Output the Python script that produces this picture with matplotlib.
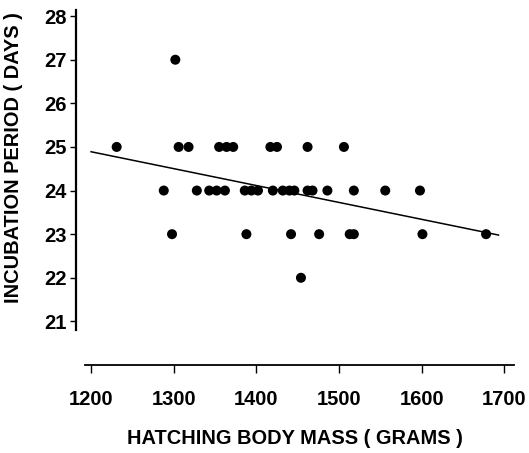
import matplotlib
matplotlib.use("Agg")
import matplotlib.pyplot as plt
import numpy as np

# hatching body mass (g) grouped by incubation period (days)
mass_27 = [1302]
mass_25 = [1231, 1306, 1318, 1355, 1364, 1372, 1417, 1425, 1462, 1506]
mass_24 = [1288, 1328, 1343, 1352, 1362, 1386, 1394, 1402, 1420,
           1432, 1440, 1446, 1462, 1468, 1486, 1518, 1556, 1598]
mass_23 = [1298, 1388, 1442, 1476, 1513, 1518, 1601, 1678]
mass_22 = [1454]

x_ticks = [1200, 1300, 1400, 1500, 1600, 1700]
y_ticks = [21, 22, 23, 24, 25, 26, 27, 28]

# regression line as drawn in the original (end points)
fit_x = [1200, 1693]
fit_y = [24.89, 22.98]

mass = np.array(mass_27 + mass_25 + mass_24 + mass_23 + mass_22, dtype=float)
days = np.array([27] * len(mass_27) + [25] * len(mass_25) + [24] * len(mass_24)
                + [23] * len(mass_23) + [22] * len(mass_22), dtype=float)

plt.rcParams["font.family"] = ["Liberation Sans", "DejaVu Sans"]
plt.rcParams["font.weight"] = "bold"

fig = plt.figure(figsize=(5.29, 4.53), dpi=100)
ax = fig.add_axes([76 / 529, 1 - 365 / 453, (515 - 76) / 529, (365 - 10) / 453])

ax.scatter(mass, days, s=52, color="black", edgecolors="none", zorder=3)
ax.plot(fit_x, fit_y, color="black", lw=1.1)

ax.set_xlim(1181.8, 1713)
ax.set_ylim(20.0, 28.14)
ax.set_xticks(x_ticks)
ax.set_yticks(y_ticks)

for s in ("top", "right"):
    ax.spines[s].set_visible(False)
ax.spines["left"].set_bounds(20.8, 28.14)
ax.spines["left"].set_linewidth(1.6)
ax.spines["bottom"].set_bounds(1193, 1712)
ax.spines["bottom"].set_linewidth(1.3)

ax.tick_params(axis="x", direction="out", length=6, width=1, pad=12, labelsize=14.5)
ax.tick_params(axis="y", direction="out", length=4, width=1, pad=3, labelsize=14.5)

fig.text(295 / 529, 1 - 438 / 453, "HATCHING BODY MASS ( GRAMS )",
         fontsize=14.4, fontweight="bold", ha="center", va="center")
fig.text(14 / 529, 1 - 158 / 453, "INCUBATION PERIOD ( DAYS )",
         fontsize=14.4, fontweight="bold", ha="center", va="center", rotation=90)

fig.savefig("out.png", dpi=100)
